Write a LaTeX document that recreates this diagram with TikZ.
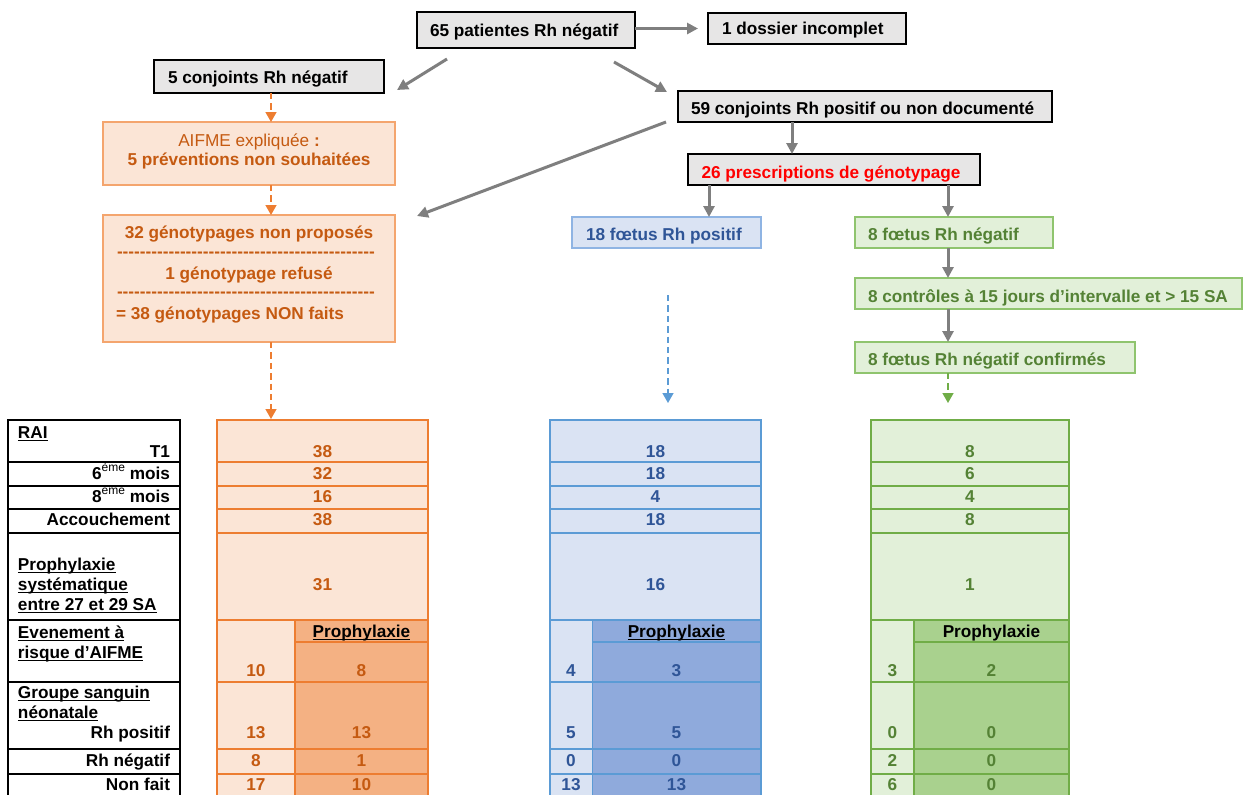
\documentclass[tikz,border=0pt]{standalone}
\usepackage{fontspec}
\setmainfont{Liberation Sans}
\usetikzlibrary{arrows.meta,calc,fit}
\definecolor{gfill}{HTML}{E7E6E6}
\definecolor{garrow}{HTML}{7F7F7F}
\definecolor{oBorder}{HTML}{ED7D31}
\definecolor{oBox}{HTML}{F4A56E}
\definecolor{oLight}{HTML}{FBE5D6}
\definecolor{oDark}{HTML}{F4B183}
\definecolor{oText}{HTML}{C55A11}
\definecolor{bBorder}{HTML}{5B9BD5}
\definecolor{bBox}{HTML}{8FB4E3}
\definecolor{bLight}{HTML}{DAE3F3}
\definecolor{bDark}{HTML}{8FAADC}
\definecolor{bText}{HTML}{2F5597}
\definecolor{gBorder}{HTML}{70AD47}
\definecolor{gBox}{HTML}{8FC46E}
\definecolor{gLight}{HTML}{E2F0D9}
\definecolor{gDark}{HTML}{A9D18E}
\definecolor{gText}{HTML}{548235}
\newsavebox\ulbx
\newcommand\ulx[1]{\sbox\ulbx{#1}\rlap{\rule[-1.5pt]{\wd\ulbx}{0.65pt}}\usebox\ulbx}
\newcommand\supx[1]{\raisebox{4pt}{\fontsize{6}{7}\selectfont\mdseries #1}}
\newcommand\dashline{\foreach \k in {1,...,45}{\hbox{-}}}
\newcommand\coltable[7]{%
  \fill[#6] (#2,420) rectangle (#4,800);
  \fill[#7] (#3,620) rectangle (#4,800);
  \foreach \yy in {462,486,509,533,620,682,749,774}{\draw[#5, line width=0.55pt] (#2,\yy) -- (#4,\yy);}
  \draw[#5, line width=0.55pt] (#3,642) -- (#4,642);
  \draw[#5, line width=0.55pt] (#3,620) -- (#3,800);
  \draw[#5, line width=0.6pt] (#2,800) -- (#2,420) -- (#4,420) -- (#4,800);
  \node[fit={(#2,420) (#4,800)}] (#1) {};
}
\tikzset{
  every node/.style={font=\fontsize{8.6}{10.3}\selectfont\bfseries, inner sep=0pt, outer sep=0pt},
  gbx/.style={draw=black, line width=0.9pt, fill=gfill},
  obx/.style={draw=oBox, line width=0.6pt, fill=oLight},
  bbx/.style={draw=bBox, line width=0.6pt, fill=bLight},
  gnbx/.style={draw=gBox, line width=0.6pt, fill=gLight},
  garr/.style={draw=garrow, line width=1.5pt, -{Triangle[length=5.5pt,width=5.5pt]}},
  darr/.style={line width=0.75pt, dash pattern=on 3.2pt off 2pt, -{Triangle[length=5pt,width=5.5pt]}},
  lbl/.style={anchor=base west},
  lbr/.style={anchor=base east},
  num/.style={anchor=base},
}
\begin{document}
\begin{tikzpicture}[x=0.5pt, y=-0.5pt]
\useasboundingbox (0,0) rectangle (1243,794);
\clip (0,0) rectangle (1243,794);

% ---------- tables ----------
\coltable{tO}{217}{295}{428}{oBorder}{oLight}{oDark}
\coltable{tB}{550}{592.5}{761}{bBorder}{bLight}{bDark}
\coltable{tG}{871}{914}{1069}{gBorder}{gLight}{gDark}

\draw[line width=0.65pt] (8,800) -- (8,420) -- (180,420) -- (180,800);
\foreach \yy in {462,486,509,533,620,682,749,774}{\draw[line width=0.65pt] (8,\yy) -- (180,\yy);}
\node[fit={(8,420) (180,800)}] (tL) {};

% label column
\node[lbl] (lRAI) at (18,438) {\ulx{RAI}};
\node[lbr] (lT1) at (170,457) {T1};
\node[lbr] (l6) at (170,479) {6\supx{ème} mois};
\node[lbr] (l8) at (170,502) {8\supx{ème} mois};
\node[lbr] (lAcc) at (170,525) {Accouchement};
\node[lbl] (lP1) at (18,570) {\ulx{Prophylaxie}};
\node[lbl] (lP2) at (18,590) {\ulx{systématique}};
\node[lbl] (lP3) at (18,610) {\ulx{entre 27 et 29 SA}};
\node[lbl] (lE1) at (18,638) {\ulx{Evenement à}};
\node[lbl] (lE2) at (18,658) {\ulx{risque d’AIFME}};
\node[lbl] (lG1) at (18,698) {\ulx{Groupe sanguin}};
\node[lbl] (lG2) at (18,718) {\ulx{néonatale}};
\node[lbr] (lRp) at (170,738) {Rh positif};
\node[lbr] (lRn) at (170,766) {Rh négatif};
\node[lbr] (lNf) at (170,790) {Non fait};

% numbers, top part
\foreach \v/\yy [count=\i] in {38/457,32/479,16/502,38/525,31/590}
  \node[num, text=oText] (nOt\i) at (322.5,\yy) {\v};
\foreach \v/\yy [count=\i] in {18/457,18/479,4/502,18/525,16/590}
  \node[num, text=bText] (nBt\i) at (655.5,\yy) {\v};
\foreach \v/\yy [count=\i] in {8/457,6/479,4/502,8/525,1/590}
  \node[num, text=gText] (nGt\i) at (970,\yy) {\v};
% headers
\node[num] (hO) at (361.5,637) {\ulx{Prophylaxie}};
\node[num] (hB) at (676.5,637) {\ulx{Prophylaxie}};
\node[num] (hG) at (991.5,637) {Prophylaxie};
% numbers, bottom part
\foreach \a/\b/\yy [count=\i] in {10/8/676,13/13/738,8/1/766,17/10/790}{
  \node[num, text=oText] (nOl\i) at (256,\yy) {\a};
  \node[num, text=oText] (nOr\i) at (361.5,\yy) {\b};}
\foreach \a/\b/\yy [count=\i] in {4/3/676,5/5/738,0/0/766,13/13/790}{
  \node[num, text=bText] (nBl\i) at (571,\yy) {\a};
  \node[num, text=bText] (nBr\i) at (676.5,\yy) {\b};}
\foreach \a/\b/\yy [count=\i] in {3/2/676,0/0/738,2/0/766,6/0/790}{
  \node[num, text=gText] (nGl\i) at (892.5,\yy) {\a};
  \node[num, text=gText] (nGr\i) at (991.5,\yy) {\b};}

% ---------- flow boxes ----------
\node[gbx, fit={(417,12) (635,48)}] (b65) {};
\node[lbl] (t65) at (430,36) {65 patientes Rh négatif};
\node[gbx, fit={(708,13) (906,44)}] (b1d) {};
\node[lbl] (t1d) at (722,34.5) {1 dossier incomplet};
\node[gbx, fit={(154,60) (384,93)}] (b5c) {};
\node[lbl] (t5c) at (168,83) {5 conjoints Rh négatif};
\node[gbx, fit={(678,91) (1052,122)}] (b59) {};
\node[lbl] (t59) at (691,114) {59 conjoints Rh positif ou non documenté};
\node[gbx, fit={(688,154) (980,185)}] (b26) {};
\node[lbl, text=red] (t26) at (701.5,178) {26 prescriptions de génotypage};

\node[obx, fit={(103,122) (395,185)}] (bA) {};
\node[num, text=oText] (tA1) at (249,146) {\mdseries AIFME expliquée \bfseries:};
\node[num, text=oText] (tA2) at (249,165) {5 préventions non souhaitées};

\node[obx, fit={(103,215) (395,342)}] (b32) {};
\node[num, text=oText] (t32a) at (249,238) {32 génotypages non proposés};
\node[lbl, text=oText] (t32b) at (117,257.5) {\dashline};
\node[num, text=oText] (t32c) at (249,279) {1 génotypage refusé};
\node[lbl, text=oText] (t32d) at (117,297.5) {\dashline};
\node[lbl, text=oText] (t32e) at (116,319) {= 38 génotypages NON faits};

\node[bbx, fit={(572,217) (761,248)}] (b18) {};
\node[lbl, text=bText] (t18) at (586,240) {18 fœtus Rh positif};
\node[gnbx, fit={(855,217) (1053,248)}] (b8n) {};
\node[lbl, text=gText] (t8n) at (868,240) {8 fœtus Rh négatif};
\node[gnbx, fit={(855,278) (1242,309)}] (b8c) {};
\node[lbl, text=gText] (t8c) at (868,302) {8 contrôles à 15 jours d’intervalle et > 15 SA};
\node[gnbx, fit={(855,342) (1135,373)}] (b8f) {};
\node[lbl, text=gText] (t8f) at (868,365) {8 fœtus Rh négatif confirmés};

% ---------- connectors ----------
\draw[garr] (b65.east |- b1d.west) -- ($(b1d.west)+(-10,0)$);
\draw[garr] ($(b65.south west)+(30,11)$) -- ($(b5c.east)+(13,13.5)$);
\draw[garr] ($(b65.south east)+(-21,14)$) -- ($(b59.north west)+(-11,1)$);
\draw[garr] ($(b59.south west)+(-12,0)$) -- ($(b32.north east)+(22,1)$);
\draw[garr] ($(b59.south west)+(114,0)$) -- ($(b26.north west)+(104,0)$);
\draw[garr] ($(b26.south west)+(21,0)$) -- ($(b18.north west)+(137,0)$);
\draw[garr] ($(b26.south east)+(-32,0)$) -- ($(b8n.north west)+(93,0)$);
\draw[garr] ($(b8n.south west)+(93,0)$) -- ($(b8c.north west)+(93,0)$);
\draw[garr] ($(b8c.south west)+(93,0)$) -- ($(b8f.north west)+(93,0)$);

\draw[darr, oBorder] ($(b5c.south west)+(117,0)$) -- ($(bA.north west)+(168,0)$);
\draw[darr, oBorder] ($(bA.south west)+(168,0)$) -- ($(b32.north west)+(168,0)$);
\draw[darr, oBorder] ($(b32.south west)+(168,0)$) -- ($(tO.north west)+(54,-1)$);
\coordinate (bs) at (668,295);
\draw[darr, bBorder] (bs) -- ($(tB.north west)+(118,-17)$);
\draw[darr, gBorder] ($(b8f.south west)+(93,0)$) -- ($(tG.north west)+(77,-17)$);
\end{tikzpicture}
\end{document}
